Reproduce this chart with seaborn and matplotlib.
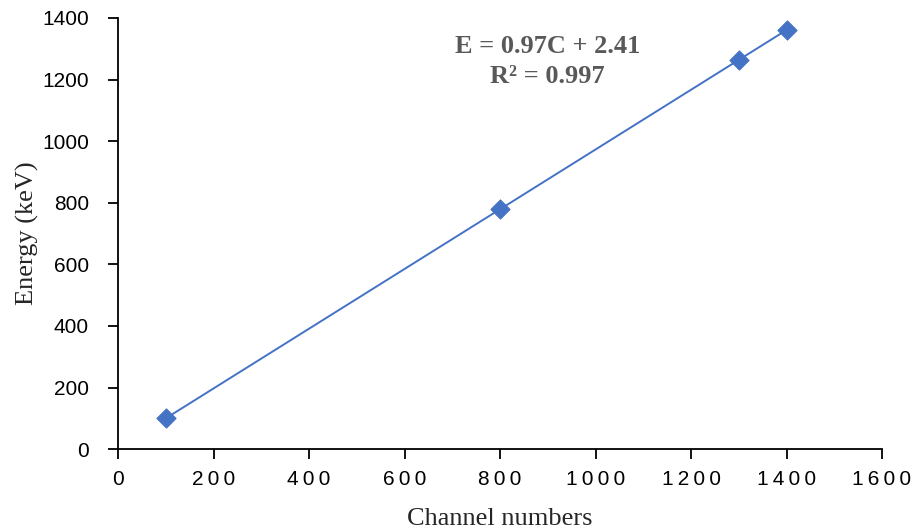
import matplotlib
matplotlib.use("Agg")
import matplotlib.pyplot as plt
import seaborn as sns
import pandas as pd

# --- Data ---
channels = [100, 800, 1300, 1400]
energies = [100, 779, 1264, 1361]
x_ticks = [0, 200, 400, 600, 800, 1000, 1200, 1400, 1600]
y_ticks = [0, 200, 400, 600, 800, 1000, 1200, 1400]
fit_text = "E = 0.97C + 2.41\nR\u00b2 = 0.997"

df = pd.DataFrame({"Channel": channels, "Energy": energies})

sns.set_style("ticks")
plt.rcParams['font.family'] = ['Liberation Sans', 'DejaVu Sans']

fig = plt.figure(figsize=(9.15, 5.29), dpi=100)
ax = fig.add_axes([0.129, 0.151, 0.835, 0.815])

blue = "#4472C4"
sns.lineplot(data=df, x="Channel", y="Energy", ax=ax, color=blue, linewidth=1.4)
sns.scatterplot(data=df, x="Channel", y="Energy", ax=ax, color=blue, marker="D",
                s=95, edgecolor=blue, zorder=3)

ax.set_xlim(0, 1600)
ax.set_ylim(0, 1400)
ax.set_xticks(x_ticks)
# spaced-out digits on the x axis, like the original
ax.set_xticklabels(["\u2009".join(str(t)) for t in x_ticks])
ax.set_yticks(y_ticks)

ax.tick_params(axis="x", labelsize=15, length=7, width=1.3, direction="out", pad=8, colors="black")
ax.tick_params(axis="y", labelsize=15, length=7, width=1.3, direction="out", pad=14, colors="black")
for side in ["left", "bottom"]:
    ax.spines[side].set_linewidth(1.3)
    ax.spines[side].set_color("black")
sns.despine(ax=ax)

ax.set_xlabel("Channel numbers", family="Liberation Serif", fontsize=19, labelpad=14)
ax.set_ylabel("Energy (keV)", family="Liberation Serif", fontsize=19, labelpad=2)

ax.text(900, 1258, fit_text, ha="center", va="center", family="Liberation Serif",
        fontsize=19, fontweight="bold", color="#595959", linespacing=1.4)

plt.savefig("out.png", dpi=100)
